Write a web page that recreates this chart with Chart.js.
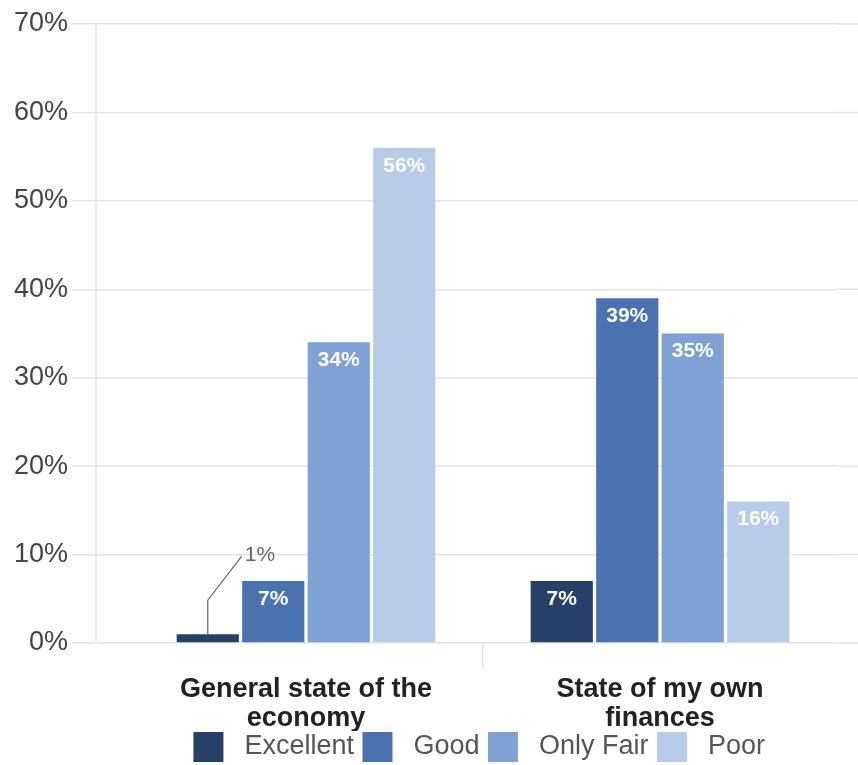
<!DOCTYPE html>
<html>
<head>
<meta charset="utf-8">
<script src="https://cdn.jsdelivr.net/npm/chart.js@4.4.1/dist/chart.umd.min.js"></script>
<style>
  html, body { margin: 0; padding: 0; background: #fff; }
  #wrap { width: 858px; height: 765px; }
</style>
</head>
<body>
<div id="wrap"><canvas id="chart"></canvas></div>
<script>
const categories = [["General state of the", "economy"], ["State of my own", "finances"]];
const seriesNames = ["Excellent", "Good", "Only Fair", "Poor"];
const excellent = [1, 7];
const good = [7, 39];
const onlyFair = [34, 35];
const poor = [56, 16];
const yTicks = [0, 10, 20, 30, 40, 50, 60, 70];
const colors = ["#26406a", "#4a72b0", "#7fa1d4", "#b8cce9"];

const seriesValues = [excellent, good, onlyFair, poor];
const FONT = "'Liberation Sans', Arial, sans-serif";
const GRID = "#e4e3e8";

// value labels: white inside the bar, or a callout for tiny bars
const barLabels = {
  id: "barLabels",
  afterDatasetsDraw(chart) {
    const ctx = chart.ctx;
    ctx.save();
    chart.data.datasets.forEach((ds, i) => {
      chart.getDatasetMeta(i).data.forEach((bar, j) => {
        const v = ds.data[j];
        const txt = v + "%";
        if (v < 3) {
          ctx.strokeStyle = "#666";
          ctx.lineWidth = 1.2;
          ctx.beginPath();
          ctx.moveTo(bar.x, bar.y);
          ctx.lineTo(bar.x, bar.y - 34);
          ctx.lineTo(bar.x + 34, bar.y - 78);
          ctx.stroke();
          ctx.fillStyle = "#666";
          ctx.font = "21px " + FONT;
          ctx.textAlign = "left";
          ctx.textBaseline = "middle";
          ctx.fillText(txt, bar.x + 37, bar.y - 79);
        } else {
          ctx.fillStyle = "#fff";
          ctx.font = "bold 21px " + FONT;
          ctx.textAlign = "center";
          ctx.textBaseline = "middle";
          ctx.fillText(txt, bar.x, bar.y + 18);
        }
      });
    });
    ctx.restore();
  }
};

// left vertical axis line set in from the chart area, and gridlines run to the right edge
const axisLine = {
  id: "axisLine",
  beforeDatasetsDraw(chart) {
    const { ctx, chartArea } = chart;
    const y = chart.scales.y;
    ctx.save();
    ctx.strokeStyle = GRID;
    ctx.lineWidth = 1.5;
    ctx.beginPath();
    ctx.moveTo(chartArea.left - 33, chartArea.top);
    ctx.lineTo(chartArea.left - 33, chartArea.bottom);
    y.ticks.forEach(t => {
      const py = y.getPixelForValue(t.value);
      ctx.moveTo(chartArea.right, py);
      ctx.lineTo(chart.width, py);
    });
    ctx.stroke();
    ctx.restore();
  }
};

new Chart(document.getElementById("chart"), {
  type: "bar",
  data: {
    labels: categories,
    datasets: seriesNames.map((name, i) => ({
      label: name,
      data: seriesValues[i],
      backgroundColor: colors[i],
      borderWidth: 0,
      categoryPercentage: 0.74,
      barPercentage: 0.95
    }))
  },
  options: {
    responsive: true,
    maintainAspectRatio: false,
    animation: false,
    layout: { padding: { top: 24, right: 21, left: 0, bottom: -7 } },
    scales: {
      y: {
        min: 0,
        max: 70,
        afterFit(scale) { scale.width = 129; },
        afterBuildTicks(scale) { scale.ticks = yTicks.map(v => ({ value: v })); },
        grid: { color: GRID, lineWidth: 1.5, tickLength: 57 },
        border: { display: false },
        ticks: {
          padding: 4,
          color: "#444",
          font: { size: 27, family: FONT },
          callback: v => v + "%"
        }
      },
      x: {
        afterFit(scale) { scale.height = 88; },
        grid: {
          drawOnChartArea: false,
          tickLength: 24,
          lineWidth: 1.5,
          color: c => (c.index === 1 ? GRID : "rgba(0,0,0,0)")
        },
        border: { display: false },
        ticks: {
          padding: 8,
          color: "#222",
          font: { size: 27, weight: "bold", family: FONT, lineHeight: 1.08 }
        }
      }
    },
    plugins: {
      legend: {
        position: "bottom",
        fullSize: false,
        labels: {
          boxWidth: 30,
          boxHeight: 30,
          padding: 1,
          color: "#555",
          font: { size: 27, family: FONT },
          generateLabels(chart) {
            const items = Chart.defaults.plugins.legend.labels.generateLabels(chart);
            items.forEach(it => { it.text = " " + it.text + " "; });
            return items;
          }
        }
      },
      tooltip: { enabled: false }
    }
  },
  plugins: [barLabels, axisLine]
});
</script>
</body>
</html>
